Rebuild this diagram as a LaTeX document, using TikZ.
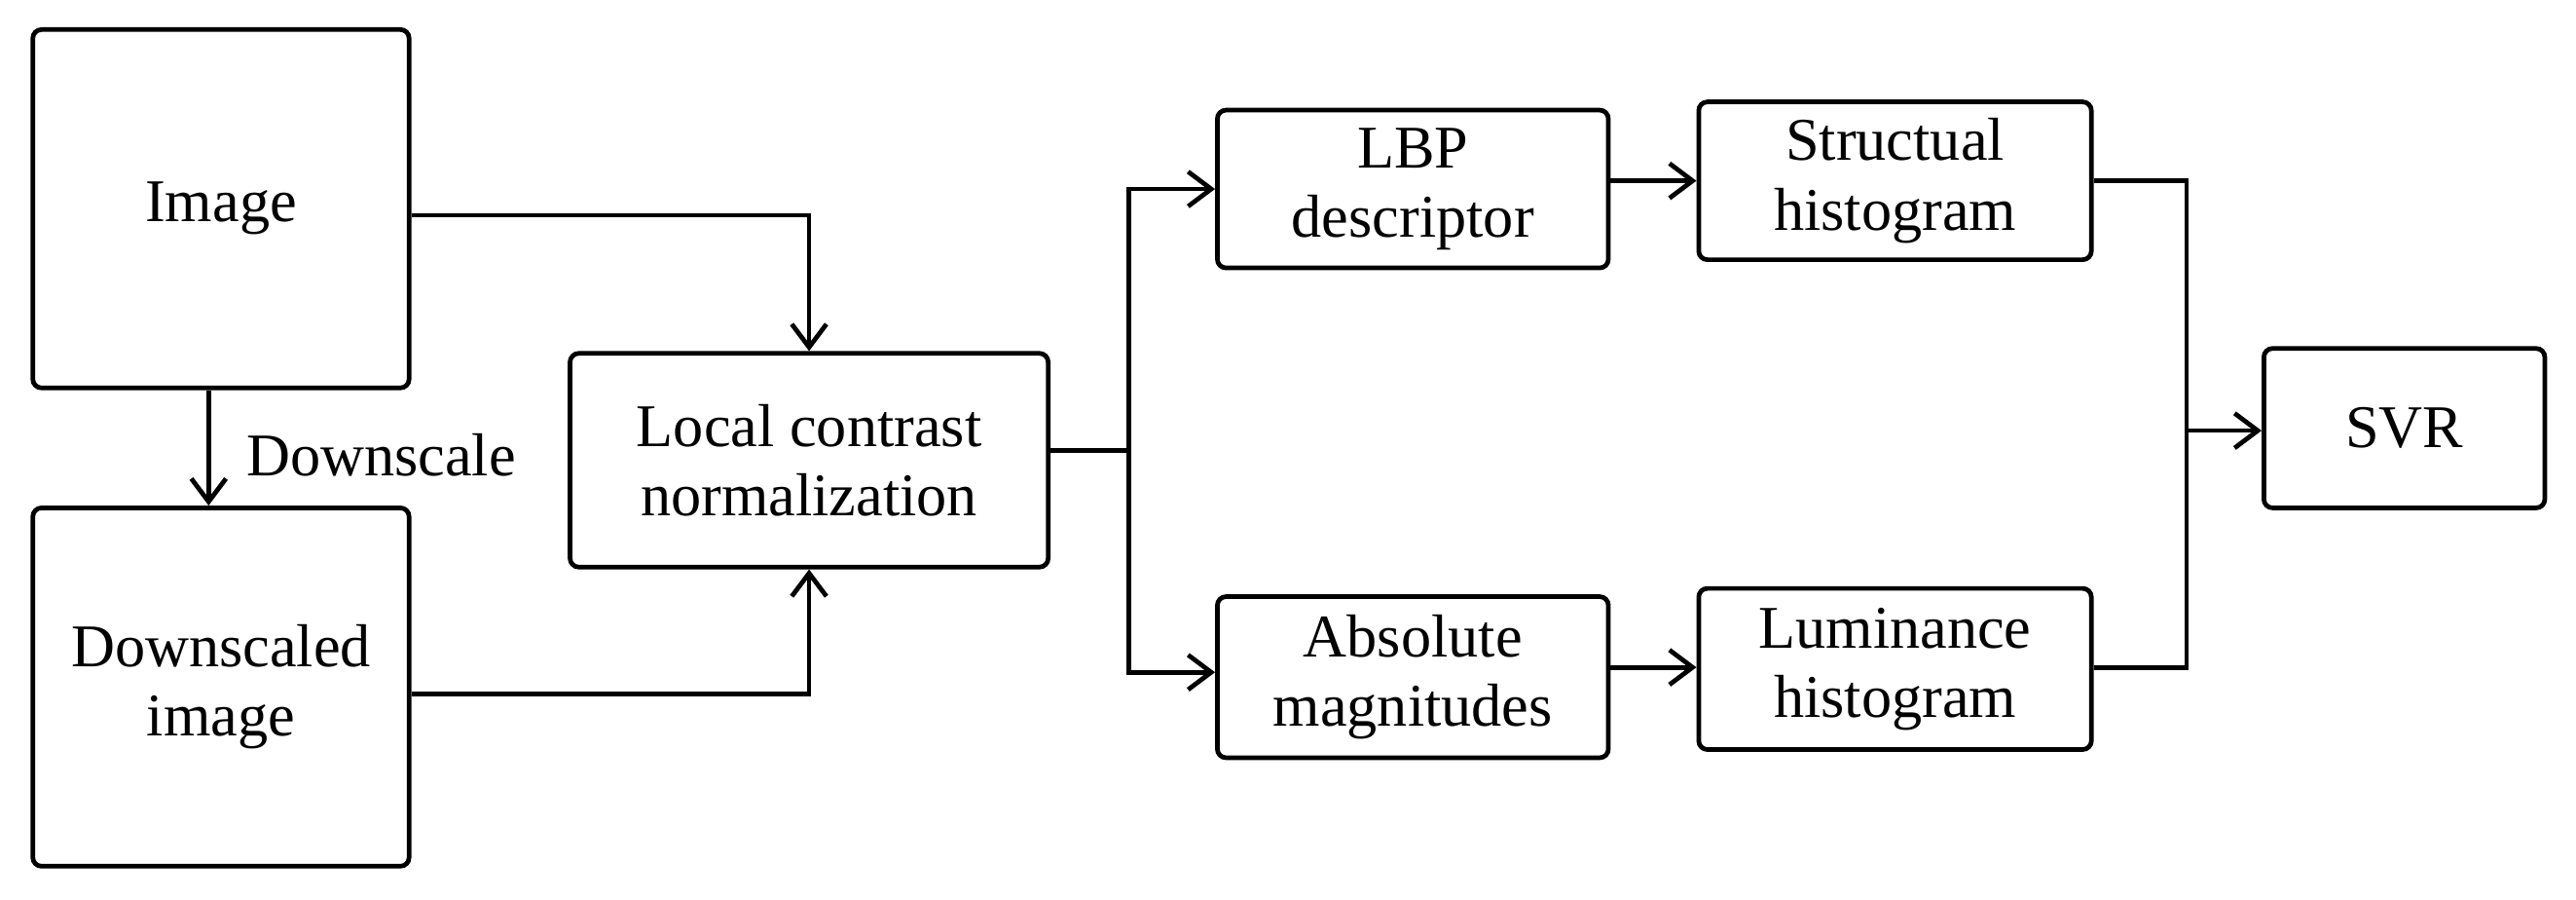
\documentclass[tikz,border=0pt]{standalone}
\usepackage{fontspec}
\setmainfont{Liberation Serif}
\usetikzlibrary{arrows.meta}
\begin{document}
\begin{tikzpicture}[x=0.02cm,y=-0.02cm,
  box/.style={draw,line width=1.6pt,rounded corners=3pt,align=center,inner sep=0pt,font=\fontsize{21}{24}\selectfont},
  conn/.style={line width=1.6pt,-{Straight Barb[length=8pt,width=12pt,line width=1.6pt]}},
  ln/.style={line width=1.6pt}]
\useasboundingbox (0,0) rectangle (1568,547);
\def\bx#1#2#3#4#5#6{\node[box,minimum width={(#4-#2)*0.02cm},minimum height={(#5-#3)*0.02cm}] (#1) at ({(#2+#4)/2},{(#3+#5)/2}) {#6};}
\bx{img}{20}{18}{249}{236}{Image}
\bx{dimg}{20}{309}{249}{527}{Downscaled\\image}
\bx{lcn}{347}{215}{638}{345}{Local contrast\\normalization}
\bx{lbp}{741}{67}{979}{163}{LBP\\descriptor}
\bx{sh}{1034}{62}{1273}{158}{Structual\\histogram}
\bx{am}{741}{363}{979}{461}{Absolute\\magnitudes}
\bx{lh}{1034}{358}{1273}{456}{Luminance\\histogram}
\bx{svr}{1378}{212}{1549}{309}{SVR}
\draw[conn] (img.east |- 0,131) -| (lcn.north);
\draw[conn] (dimg.east |- 0,422) -| (lcn.south);
\draw[conn] (img.south -| 127,0) -- (dimg.north -| 127,0);
\node[font=\fontsize{21}{24}\selectfont] (ds) at (232,277) {Downscale};
\coordinate (j) at (687,274);
\draw[ln] (lcn.east |- j) -- (j);
\draw[conn] (j) |- (lbp.west |- 0,115);
\draw[conn] (j) |- (am.west |- 0,409);
\draw[conn] (lbp.east |- 0,110) -- (sh.west |- 0,110);
\draw[conn] (am.east |- 0,406) -- (lh.west |- 0,406);
\coordinate (k) at (1331,262);
\draw[ln] (sh.east |- 0,110) -| (k);
\draw[ln] (lh.east |- 0,406) -| (k);
\draw[conn] (k) -- (svr.west |- k);
\end{tikzpicture}
\end{document}
